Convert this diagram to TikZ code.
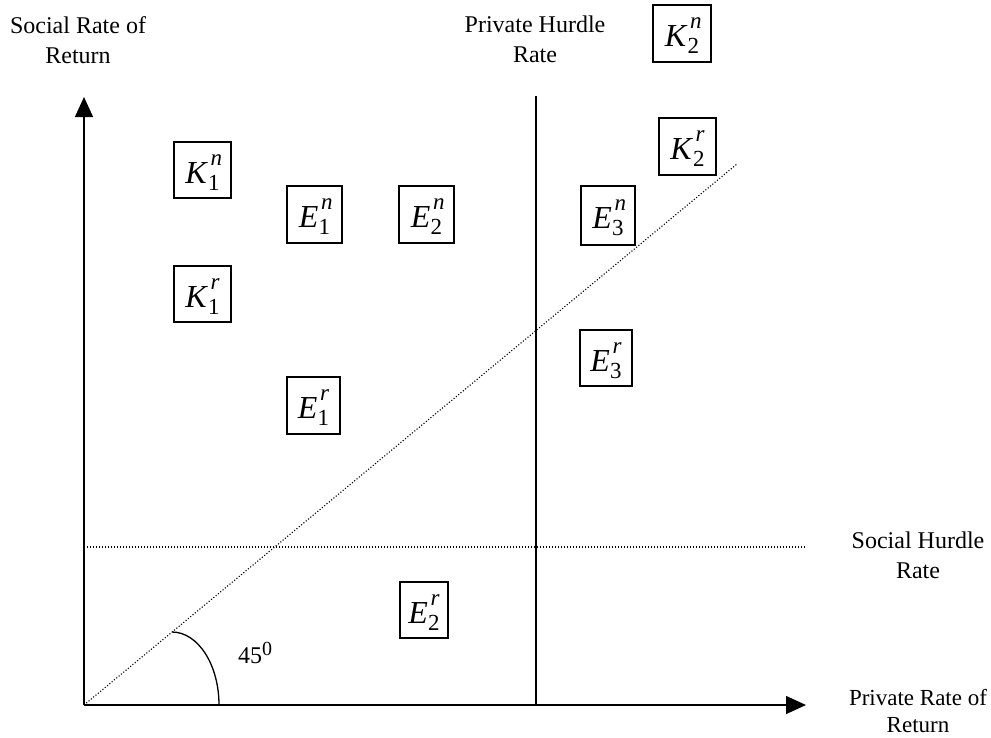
\documentclass[tikz,border=0pt]{standalone}
\usepackage{fontspec}
\setmainfont{Liberation Serif}
\usetikzlibrary{arrows.meta}
\newcommand{\bsym}[3]{\fontsize{32}{32}\selectfont\textit{#1}\rlap{\kern2.5pt\raisebox{18pt}{\fontsize{23}{23}\selectfont\textit{#3}}}\raisebox{-7pt}{\fontsize{23}{23}\selectfont #2}}
\tikzset{
  axis/.style={line width=1.4pt, -{Triangle[length=20pt,width=18pt]}},
  solidline/.style={line width=1.4pt},
  dotline/.style={line width=1.1pt, dash pattern=on 1.1pt off 1.9pt},
  symbox/.style={draw, line width=1.3pt, inner sep=0pt, minimum width=55pt, minimum height=57pt, text height=33pt, text depth=7pt, align=center},
  lbl/.style={inner sep=0pt, anchor=north, align=center, font=\fontsize{24}{30}\selectfont},
}
\begin{document}
\begin{tikzpicture}[x=1pt,y=-1pt]
\useasboundingbox (0,0) rectangle (991,737);
% coordinates
\coordinate (O) at (84,705);
\coordinate (ytop) at (84,97);
\coordinate (xend) at (806,705);
\coordinate (phTop) at (536,96);
\coordinate (phBot) at (536,705);
\coordinate (shL) at (84,547);
\coordinate (shR) at (805,547);
\coordinate (dTop) at (737,164);
\coordinate (arcS) at (172,632);
% axes and lines
\draw[axis] (O) -- (ytop);
\draw[axis] (O) -- (xend);
\draw[solidline] (phTop) -- (phBot);
\draw[dotline] (shL) -- (shR);
\draw[dotline] (O) -- (dTop);
\draw[line width=1.3pt] (arcS) arc[start angle=-90, end angle=0, x radius=47, y radius=73];
% labels
\node[lbl] (lsr) at (78,16) {Social Rate of\\Return};
\node[lbl] (lph) at (535,16) {Private Hurdle\\Rate};
\node[lbl] (lsh) at (918,532) {Social Hurdle\\Rate};
\node[lbl, font=\fontsize{23}{27}\selectfont] (lpr) at (918,689) {Private Rate of\\Return};
\node[inner sep=0pt, anchor=base west, font=\fontsize{24}{24}\selectfont] (ang) at (238,663) {45\raisebox{8pt}{\fontsize{20}{20}\selectfont 0}};
% boxes
\node[symbox, minimum width=57pt, minimum height=56pt] (K1n) at (202.5,170) {\bsym{K}{1}{n}};
\node[symbox, minimum width=57pt, minimum height=56pt] (K1r) at (202.5,294) {\bsym{K}{1}{r}};
\node[symbox, minimum width=58pt] (K2n) at (682,33.5) {\bsym{K}{2}{n}};
\node[symbox, minimum width=57pt] (K2r) at (687.5,146.5) {\bsym{K}{2}{r}};
\node[symbox] (E1n) at (314.5,214.5) {\bsym{E}{1}{n}};
\node[symbox] (E2n) at (426.5,214.5) {\bsym{E}{2}{n}};
\node[symbox, minimum width=54pt, minimum height=59pt] (E3n) at (608,215.5) {\bsym{E}{3}{n}};
\node[symbox, minimum width=53pt] (E1r) at (313.5,405.5) {\bsym{E}{1}{r}};
\node[symbox, minimum width=48pt, minimum height=56pt] (E2r) at (424,610) {\bsym{E}{2}{r}};
\node[symbox, minimum width=52pt, minimum height=56pt] (E3r) at (606,358) {\bsym{E}{3}{r}};
\end{tikzpicture}
\end{document}
